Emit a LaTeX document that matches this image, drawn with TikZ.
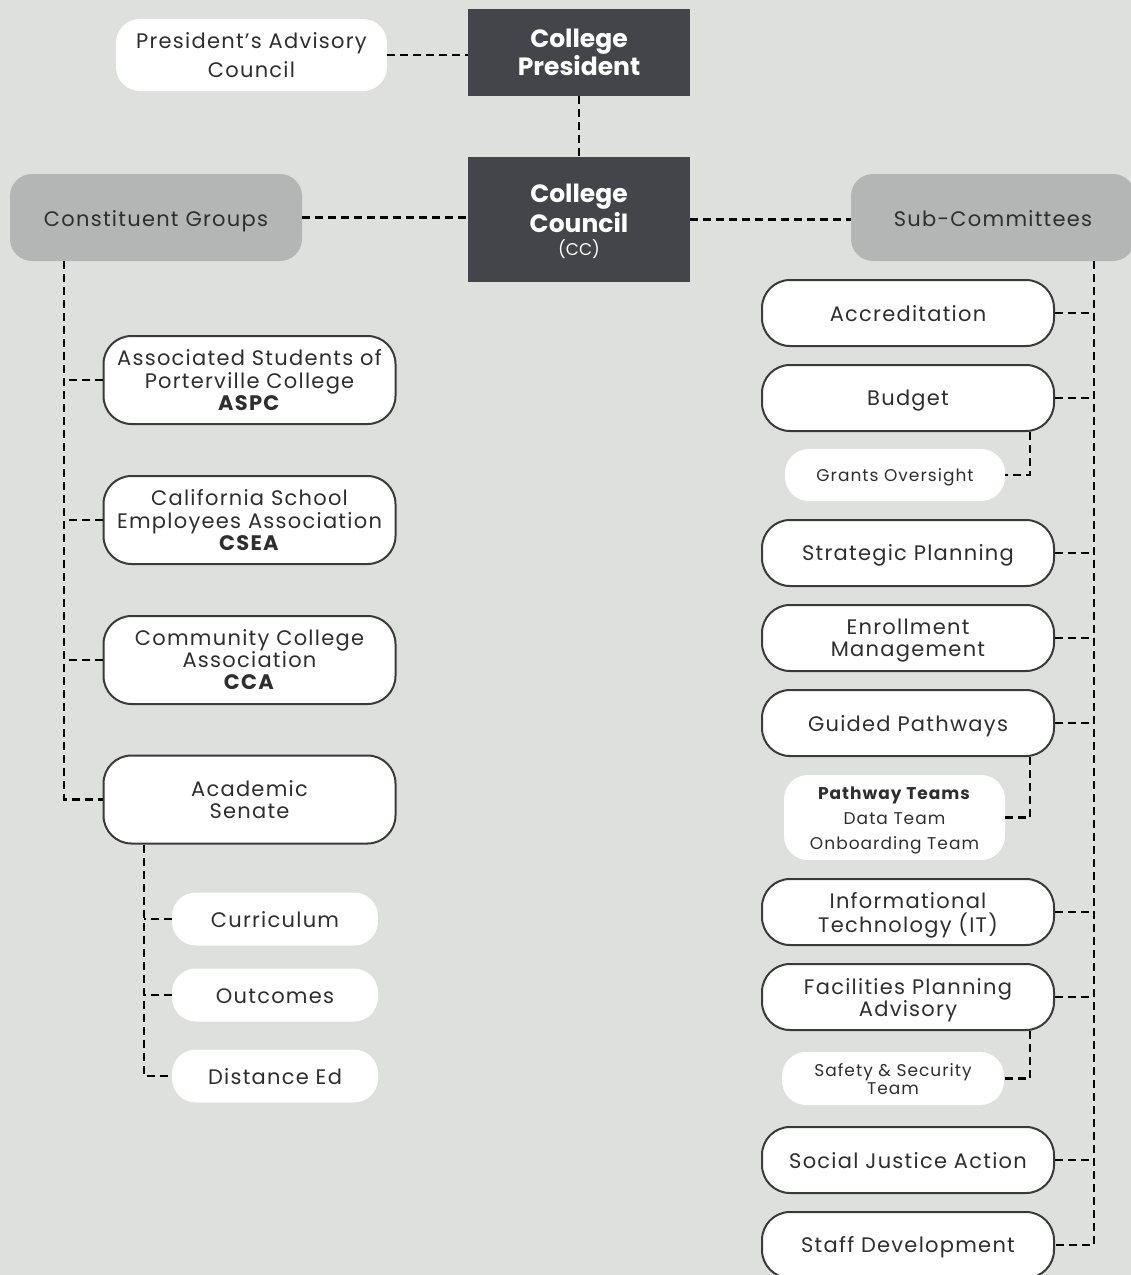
\documentclass[tikz,border=0pt]{standalone}
\usepackage{fontspec}
\setmainfont{Poppins}[LetterSpace=6]
\newfontfamily\darkfont{Poppins}
\newcommand{\tx}[2][3pt]{\raisebox{-#1}[\height][\depth]{\begin{tabular}{@{}c@{}}#2\end{tabular}}}
\definecolor{bgc}{HTML}{DDE0DC}
\definecolor{darkc}{HTML}{43454B}
\definecolor{grayc}{HTML}{B3B6B5}
\definecolor{txtc}{HTML}{2E2E2E}
\definecolor{borderc}{HTML}{3A3A3A}
\begin{document}
\begin{tikzpicture}[x=1pt,y=-1pt,
  darkbox/.style={fill=darkc,text=white,inner sep=0pt,align=center,font=\darkfont\fontsize{25}{28}\selectfont\bfseries},
  graybox/.style={fill=grayc,text=txtc,rounded corners=22pt,inner sep=0pt,font=\fontsize{21}{24}\selectfont},
  wbox/.style={fill=white,draw=borderc,line width=2pt,rounded corners=28pt,text=txtc,inner sep=0pt,align=center,minimum width=292pt,font=\fontsize{21}{22}\selectfont},
  pbox/.style={fill=white,rounded corners=24pt,text=txtc,inner sep=0pt,align=center,font=\fontsize{21}{22}\selectfont},
  link/.style={draw=black,line width=2.5pt,dash pattern=on 8pt off 5pt}]
\fill[bgc] (0,0) rectangle (1131,1275);
\useasboundingbox (0,0) rectangle (1131,1275);
% top
\node[pbox,minimum width=271pt,minimum height=72pt,font=\fontsize{21}{29}\selectfont] (pac) at (251.5,55) {President’s Advisory\\Council};
\node[darkbox,minimum width=222pt,minimum height=87pt] (cp) at (579,52.5) {College\\President};
\node[darkbox,minimum width=222pt,minimum height=125pt] (cc) at (579,219.5) {\tx[4pt]{College\\[2pt]Council\\[-5pt]{\fontsize{17}{18}\selectfont\mdseries (CC)}}};
\node[graybox,minimum width=292pt,minimum height=87pt] (cg) at (156,217.5) {\tx[4pt]{Constituent Groups}};
\node[graybox,minimum width=284pt,minimum height=87pt] (sc) at (993,217.5) {\tx[4pt]{Sub-Committees}};
\draw[link] (pac.east) -- (pac.east -| cp.west);
\draw[link] (cp.south) -- (cc.north);
\draw[link] (cg.east) -- (cg.east -| cc.west);
\draw[link] (cc.east) -- (cc.east -| sc.west);
% left column
\node[wbox,minimum height=88pt] (aspc) at (249.5,380) {\tx[3pt]{Associated Students of\\Porterville College\\\textbf{ASPC}}};
\node[wbox,minimum height=88pt] (csea) at (249.5,520) {\tx[3pt]{California School\\Employees Association\\\textbf{CSEA}}};
\node[wbox,minimum height=88pt] (cca) at (249.5,660) {\tx[3pt]{Community College\\Association\\\textbf{CCA}}};
\node[wbox,minimum height=88pt] (asen) at (249.5,799.5) {\tx{Academic\\Senate}};
\coordinate (ltx) at (64,0);
\draw[link] (cg.south -| ltx) |- (asen.west);
\draw[link] (aspc.west) -- (aspc.west -| ltx);
\draw[link] (csea.west) -- (csea.west -| ltx);
\draw[link] (cca.west) -- (cca.west -| ltx);
\node[pbox,minimum width=206pt,minimum height=53pt] (cur) at (275,919) {\tx[4pt]{Curriculum}};
\node[pbox,minimum width=206pt,minimum height=53pt] (out) at (275,995) {\tx[4pt]{Outcomes}};
\node[pbox,minimum width=206pt,minimum height=53pt] (de) at (275,1076) {\tx[4pt]{Distance Ed}};
\coordinate (stx) at (144,0);
\draw[link] (asen.south -| stx) |- (de.west);
\draw[link] (cur.west) -- (cur.west -| stx);
\draw[link] (out.west) -- (out.west -| stx);
% right column
\node[wbox,minimum height=66pt] (acc) at (908,313) {\tx[4pt]{Accreditation}};
\node[wbox,minimum height=66pt] (bud) at (908,398) {\tx{Budget}};
\node[pbox,minimum width=220pt,minimum height=52pt,font=\fontsize{17}{20}\selectfont] (go) at (895,475) {\tx[2pt]{Grants Oversight}};
\node[wbox,minimum height=66pt] (sp) at (908,553) {\tx[3pt]{Strategic Planning}};
\node[wbox,minimum height=66pt] (em) at (908,638) {\tx{Enrollment\\Management}};
\node[wbox,minimum height=66pt] (gp) at (908,723) {\tx[4pt]{Guided Pathways}};
\node[pbox,minimum width=221pt,minimum height=85pt,font=\fontsize{17}{25}\selectfont] (pt) at (894.5,817.5) {\tx[2pt]{\textbf{Pathway Teams}\\Data Team\\Onboarding Team}};
\node[wbox,minimum height=66pt] (it) at (908,912) {\tx[4pt]{Informational\\[-2pt]Technology (IT)}};
\node[wbox,minimum height=66pt] (fpa) at (908,997) {\tx[4pt]{Facilities Planning\\Advisory}};
\node[pbox,minimum width=222pt,minimum height=53pt,font=\fontsize{17}{18}\selectfont] (sst) at (893,1078.5) {\tx[3pt]{Safety \& Security\\Team}};
\node[wbox,minimum height=66pt] (sja) at (908,1160) {\tx[4pt]{Social Justice Action}};
\node[wbox,minimum height=66pt] (sd) at (908,1245) {\tx[3pt]{Staff Development}};
\coordinate (rtx) at (1094,0);
\coordinate (gx) at (1030,0);
\draw[link] (sc.south -| rtx) |- (sd.east);
\foreach \n in {acc,bud,sp,em,gp,it,fpa,sja}{\draw[link] (\n.east) -- (\n.east -| rtx);}
\draw[link] (bud.south -| gx) |- (go.east);
\draw[link] (gp.south -| gx) |- (pt.east);
\draw[link] (fpa.south -| gx) |- (sst.east);
\end{tikzpicture}
\end{document}
